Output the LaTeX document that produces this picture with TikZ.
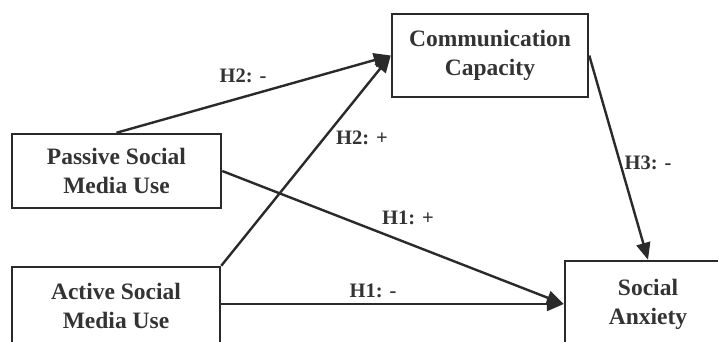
\documentclass[tikz,border=0pt]{standalone}
\usepackage{fontspec}
\setmainfont{Liberation Serif}
\usetikzlibrary{arrows.meta}
\definecolor{ink}{HTML}{2A2A2A}
\definecolor{txt}{HTML}{333333}
\tikzset{
  box/.style={draw=ink, line width=2.5pt, fill=white, align=center, text=txt,
    font=\fontsize{23.5}{29}\selectfont\bfseries, inner sep=0pt},
  conn/.style={draw=ink, line width=2.4pt, -{Triangle[length=17pt,width=14pt]}},
  lab/.style={text=txt, font=\fontsize{20.5}{24}\selectfont\bfseries, inner sep=0pt}
}
\begin{document}
\begin{tikzpicture}[x=1pt,y=-1pt]
\useasboundingbox (0,0) rectangle (718,341);
\clip (0,0) rectangle (718,341);
\fill[white] (0,0) rectangle (718,341);
\node[box, minimum width=209pt, minimum height=74pt] (P) at (116.5,171) {Passive Social\\Media Use};
\node[box, minimum width=208pt, minimum height=78pt] (A) at (116,306) {Active Social\\Media Use};
\node[box, minimum width=196pt, minimum height=83pt] (C) at (490,55.5) {Communication\\Capacity};
\node[box, minimum width=166pt, minimum height=86pt] (S) at (648,304) {Social\\Anxiety};
\draw[conn] (P.north) -- (C.west);
\draw[conn] (A.north east) -- (C.west);
\draw[conn] (P.east) -- (S.west);
\draw[conn] (A.east |- S.west) -- (S.west);
\draw[conn] (C.east) -- (S.north);
\node[lab] (l1) at (243,76) {H2: -};
\node[lab] (l2) at (362,138) {H2: +};
\node[lab] (l3) at (408,218) {H1: +};
\node[lab] (l4) at (373,291) {H1: -};
\node[lab] (l5) at (648,163) {H3: -};
\end{tikzpicture}
\end{document}
